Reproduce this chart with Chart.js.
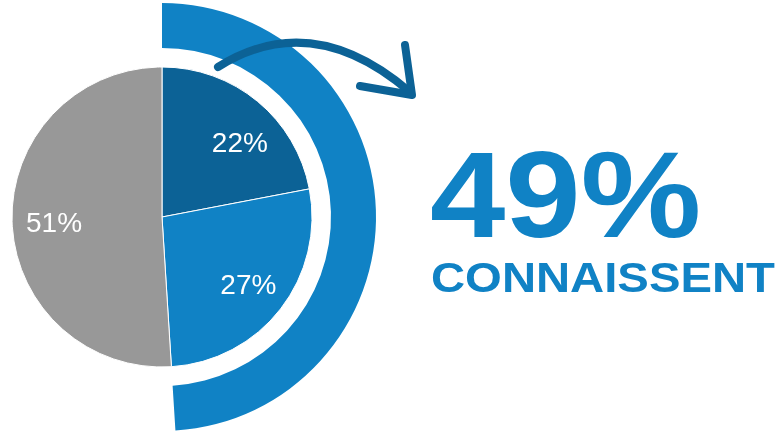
<!DOCTYPE html>
<html lang="fr">
  <head>
    <meta charset="UTF-8" />
    <title>49% connaissent</title>
    <script src="https://cdn.jsdelivr.net/npm/chart.js"></script>
    <style>
      body {
        margin: 0;
        width: 782px;
        height: 431px;
        overflow: hidden;
        background: #ffffff;
        font-family: "Liberation Sans", Arial, sans-serif;
        position: relative;
      }

      #wrap {
        position: absolute;
        left: -52px;
        top: 0;
        width: 834px;
        height: 431px;
      }

      #arrow {
        position: absolute;
        left: 0;
        top: 0;
      }

      .big {
        position: absolute;
        left: 430px;
        top: 134px;
        font-size: 122px;
        line-height: 1;
        font-weight: bold;
        color: #1082c5;
        transform: scaleX(1.11);
        transform-origin: left top;
        white-space: nowrap;
      }

      .sub {
        position: absolute;
        left: 431px;
        top: 257px;
        font-size: 42px;
        line-height: 1;
        font-weight: bold;
        color: #1082c5;
        transform: scaleX(1.125);
        transform-origin: left top;
        white-space: nowrap;
      }
    </style>
  </head>
  <body>
    <div id="wrap"><canvas id="pieChart"></canvas></div>

    <svg id="arrow" width="782" height="431">
      <path
        d="M 218 67 Q 312 8 410 92"
        fill="none"
        stroke="#0c6296"
        stroke-width="8"
        stroke-linecap="round"
      />
      <path
        d="M 405 45 L 412 95 L 360 86"
        fill="none"
        stroke="#0c6296"
        stroke-width="8"
        stroke-linecap="round"
        stroke-linejoin="round"
      />
    </svg>

    <div class="big">49%</div>
    <div class="sub">CONNAISSENT</div>

    <script>
      // inner pie, clockwise from 12 o'clock
      const pieLabels = ["22%", "27%", "51%"];
      const pieValues = [22, 27, 51];
      const pieColors = ["#0c6296", "#1082c5", "#989898"];

      // outer ring: share who know (49%) vs the rest (hidden)
      const ringValues = [49, 51];
      const ringColors = ["#1082c5", "rgba(0,0,0,0)"];

      // draws the percentage inside each pie slice
      const sliceLabels = {
        id: "sliceLabels",
        afterDatasetsDraw(chart, args, opts) {
          const meta = chart.getDatasetMeta(2);
          const ctx = chart.ctx;
          ctx.save();
          ctx.fillStyle = "#ffffff";
          ctx.font = '28px "Liberation Sans", Arial, sans-serif';
          ctx.textAlign = "center";
          ctx.textBaseline = "middle";
          meta.data.forEach((arc, i) => {
            const mid = (arc.startAngle + arc.endAngle) / 2;
            const r = arc.outerRadius * 0.72;
            const nudge = opts.nudge[i] || [0, 0];
            ctx.fillText(
              pieLabels[i],
              arc.x + Math.cos(mid) * r + nudge[0],
              arc.y + Math.sin(mid) * r + nudge[1]
            );
          });
          ctx.restore();
        },
      };

      const ctx = document.getElementById("pieChart").getContext("2d");

      new Chart(ctx, {
        type: "doughnut",
        data: {
          labels: pieLabels,
          datasets: [
            {
              data: ringValues,
              backgroundColor: ringColors,
              borderWidth: 0,
              weight: 45,
            },
            {
              // empty gap between ring and pie
              data: [100],
              backgroundColor: ["rgba(0,0,0,0)"],
              borderWidth: 0,
              weight: 19,
            },
            {
              data: pieValues,
              backgroundColor: pieColors,
              borderColor: "#ffffff",
              borderWidth: 1,
              weight: 150,
            },
          ],
        },
        options: {
          responsive: true,
          maintainAspectRatio: false,
          animation: false,
          cutout: 0,
          layout: {
            padding: { left: 0, top: 3, bottom: 0, right: 406 },
          },
          plugins: {
            legend: { display: false },
            tooltip: { enabled: false },
            sliceLabels: { nudge: [[9, 10], [1, 3], [0, 4]] },
          },
        },
        plugins: [sliceLabels],
      });
    </script>
  </body>
</html>
